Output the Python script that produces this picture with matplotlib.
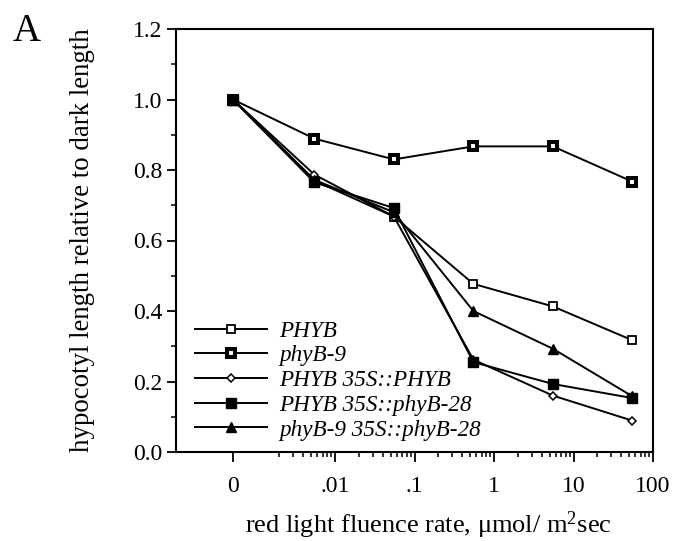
import matplotlib
matplotlib.use("Agg")
import matplotlib.pyplot as plt
from matplotlib.ticker import FixedLocator, NullFormatter
import numpy as np

plt.rcParams['font.family'] = ['Liberation Serif', 'DejaVu Serif']
plt.rcParams['mathtext.fontset'] = 'custom'
plt.rcParams['mathtext.rm'] = 'Liberation Serif'
plt.rcParams['mathtext.it'] = 'Liberation Serif:italic'

# fluence (0 = dark)
fluence = [0, 0.0055, 0.055, 0.55, 5.5, 55]
zero_pos = 5.2e-4

PHYB = [1.0, 0.77, 0.668, 0.477, 0.413, 0.317]
phyB9 = [1.0, 0.889, 0.830, 0.867, 0.867, 0.767]
PHYB_35S_PHYB = [1.0, 0.787, 0.668, 0.262, 0.160, 0.089]
PHYB_35S_phyB28 = [1.0, 0.765, 0.692, 0.255, 0.193, 0.153]
phyB9_35S_phyB28 = [1.0, 0.772, 0.680, 0.400, 0.293, 0.158]

tick_labels = ['0', '.01', '.1', '1', '10', '100']
tick_vals = [zero_pos, 0.01, 0.1, 1, 10, 100]

xpos = [zero_pos if f == 0 else f for f in fluence]

fig = plt.figure(figsize=(6.83, 5.41), dpi=100)
ax = fig.add_axes([176/683, 1-452/541, (653-176)/683, (452-29)/541])

lw = 1.4
series = [
    (PHYB, 'PHYB', dict(marker='s', mfc='white', mec='black', ms=6, mew=1.3)),
    (phyB9, 'phyB-9', dict(marker='s', mfc='white', mec='black', ms=6, mew=2.9)),
    (PHYB_35S_PHYB, 'PHYB 35S::PHYB', dict(marker='D', mfc='white', mec='black', ms=4.2, mew=1.1)),
    (PHYB_35S_phyB28, 'PHYB 35S::phyB-28', dict(marker='s', mfc='black', mec='black', ms=6.8, mew=1)),
    (phyB9_35S_phyB28, 'phyB-9 35S::phyB-28', dict(marker='^', mfc='black', mec='black', ms=6.5, mew=1)),
]
for vals, name, st in series:
    ax.plot(xpos, vals, color='black', lw=lw, label=name, **st)

ax.set_xscale('log')
ax.set_xlim(1e-4, 100)
ax.set_ylim(0, 1.2)
ax.xaxis.set_major_locator(FixedLocator(tick_vals))
ax.set_xticklabels(tick_labels)
minors = [m * 10.0**e for e in range(-3, 2) for m in range(2, 10)]
ax.xaxis.set_minor_locator(FixedLocator(minors))
ax.xaxis.set_minor_formatter(NullFormatter())
ax.set_yticks(np.arange(0, 1.21, 0.2))
ax.set_yticklabels([f'{v:.1f}' for v in np.arange(0, 1.21, 0.2)])
ax.set_yticks(np.arange(0.1, 1.2, 0.2), minor=True)

ax.tick_params(which='major', direction='out', width=1.3, labelsize=17)
ax.tick_params(axis='y', which='major', length=6.5, pad=3.5)
ax.tick_params(axis='x', which='major', length=7, pad=10)
ax.tick_params(which='minor', direction='out', length=3.6, width=1.1)
for s in ax.spines.values():
    s.set_linewidth(1.5)

ax.set_ylabel('hypocotyl length relative to dark length', fontsize=19.4, labelpad=27)
ax.set_xlabel('red light fluence rate, \u03bcmol/ m$^{2}$sec', fontsize=19, labelpad=10)
ax.xaxis.set_label_coords(0.53, -0.137)

leg = ax.legend(loc='lower left', bbox_to_anchor=(0.02, 0.005), frameon=False,
                prop={'style': 'italic', 'size': 16.7}, handlelength=3.1,
                labelspacing=0.15, handletextpad=0.55, borderaxespad=0)

fig.text(0.018, 0.925, 'A', fontsize=28)

fig.savefig('out.png', dpi=100)
